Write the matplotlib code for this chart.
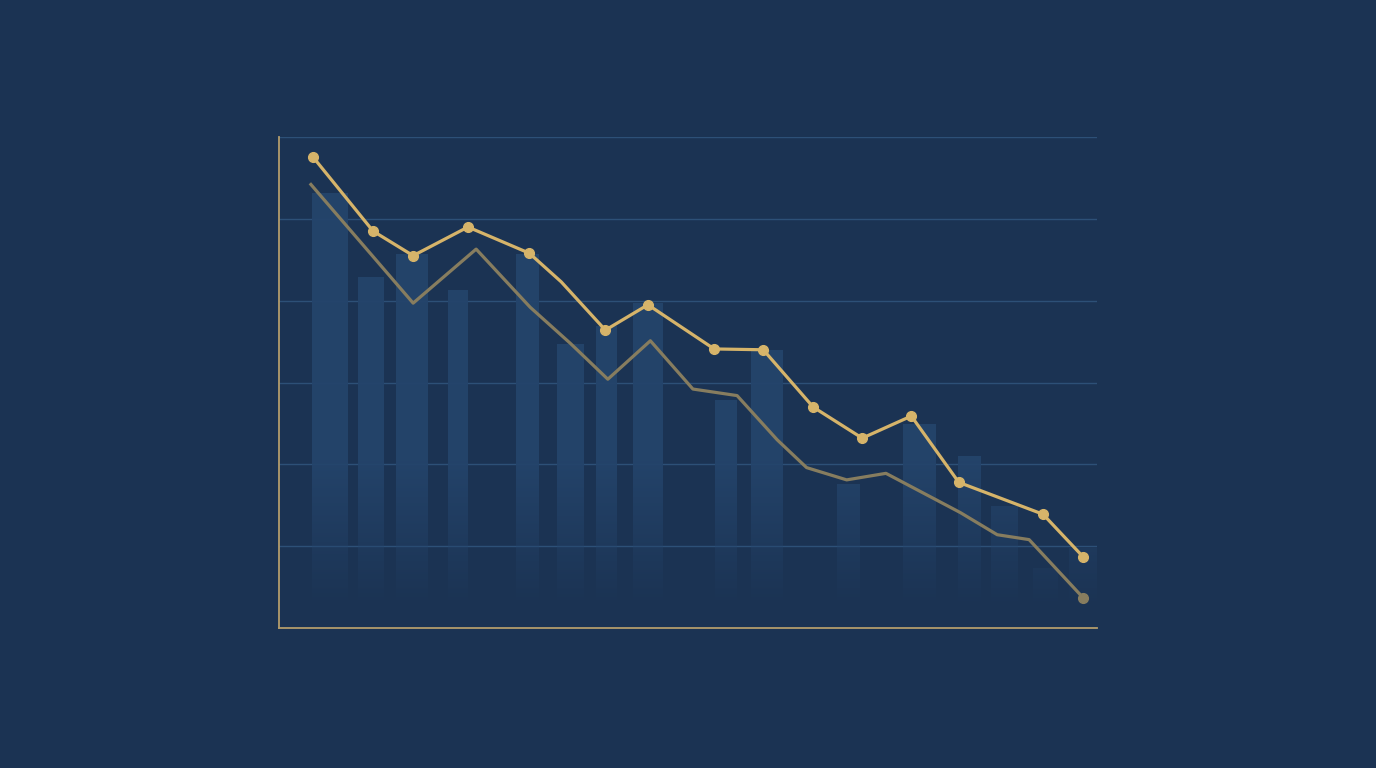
import numpy as np
import matplotlib
matplotlib.use("Agg")
import matplotlib.pyplot as plt

# data (x on a 0-100 scale, y on a 0-6 scale)
gold_x = [4.2, 11.5, 16.4, 23.1, 30.6, 34.5, 39.9, 45.1, 53.2, 59.2, 65.3, 71.3, 77.3, 83.1, 93.4, 98.3]
gold_y = [5.75, 4.85, 4.55, 4.90, 4.58, 4.23, 3.64, 3.95, 3.41, 3.40, 2.70, 2.32, 2.59, 1.78, 1.39, 0.87]
gold_marked = [0, 1, 2, 3, 4, 6, 7, 8, 9, 10, 11, 12, 13, 14, 15]

grey_x = [3.9, 16.4, 24.1, 30.7, 35.6, 40.2, 45.4, 50.6, 56.0, 60.9, 64.5, 69.4, 74.2, 83.3, 87.8, 91.7, 98.3]
grey_y = [5.42, 3.97, 4.63, 3.92, 3.48, 3.04, 3.51, 2.92, 2.84, 2.30, 1.96, 1.81, 1.89, 1.41, 1.14, 1.08, 0.37]

bar_start = [4.0, 9.7, 14.3, 20.7, 29.0, 34.0, 38.8, 43.3, 53.3, 57.7, 68.2, 76.3, 83.0, 87.0, 92.2, 96.6]
bar_end = [8.3, 12.8, 18.2, 23.1, 31.8, 37.2, 41.3, 46.9, 55.9, 61.5, 70.9, 80.3, 85.7, 90.3, 95.2, 100.0]
bar_val = [5.31, 4.28, 4.57, 4.13, 4.57, 3.47, 3.68, 3.97, 2.78, 3.39, 1.75, 2.49, 2.10, 1.48, 0.73, 0.97]

grid_levels = [1, 2, 3, 4, 5, 6]

BG = '#1b3353'
BAR = (0.145, 0.267, 0.420)
GOLD = '#d6b46a'
GREY = '#877d5f'
SPINE = '#b39d6c'
GRID = '#2d5077'

W, H = 1376, 768
fig = plt.figure(figsize=(W / 100, H / 100), dpi=100, facecolor=BG)
ax = fig.add_axes([279 / W, (768 - 628) / H, 818 / W, 491 / H])
ax.set_facecolor(BG)

for g in grid_levels:
    ax.axhline(g, color=GRID, lw=1.0, zorder=1)

# bars that fade out towards the bottom
for x0, x1, h in zip(bar_start, bar_end, bar_val):
    ys = np.linspace(h, 0, 200)
    alpha = np.clip((ys - 0.25) / 1.8, 0, 1) * 0.95
    img = np.zeros((200, 1, 4))
    img[:, 0, :3] = BAR
    img[:, 0, 3] = alpha
    ax.imshow(img, extent=(x0, x1, 0, h), aspect='auto', zorder=2,
              interpolation='bilinear')

ax.plot(grey_x, grey_y, color=GREY, lw=2.3, zorder=3, solid_joinstyle='round')
ax.plot(grey_x[-1], grey_y[-1], 'o', color=GREY, ms=7, zorder=3)
ax.plot(gold_x, gold_y, color=GOLD, lw=2.3, zorder=4, marker='o', ms=7,
        markevery=gold_marked, solid_joinstyle='round')

ax.set_xlim(0, 100)
ax.set_ylim(0, 6)
ax.set_xticks([])
ax.set_yticks([])
for s in ['top', 'right']:
    ax.spines[s].set_visible(False)
for s in ['left', 'bottom']:
    ax.spines[s].set_color(SPINE)
    ax.spines[s].set_linewidth(1.3)

fig.savefig('out.png', dpi=100, facecolor=BG)
